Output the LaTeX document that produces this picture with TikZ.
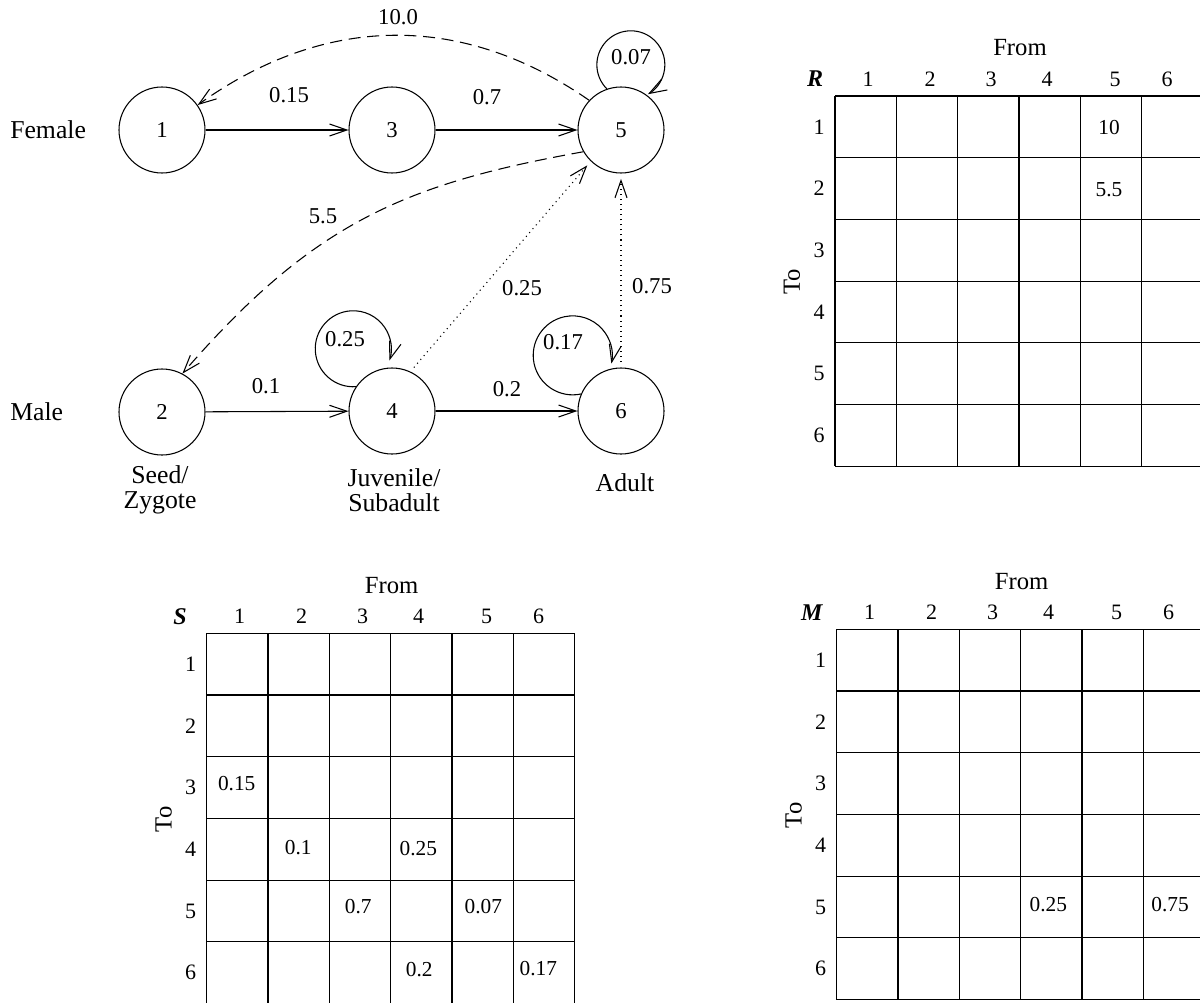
\documentclass[tikz,border=0pt]{standalone}
\usepackage{fontspec}
\setmainfont{Liberation Serif}
\usetikzlibrary{arrows.meta}
\tikzset{
  stg/.style={circle, draw, line width=0.8pt, minimum size=64.5pt, inner sep=0pt, font=\fontsize{17}{19}\selectfont},
  lbl/.style={font=\fontsize{17}{15}\selectfont, inner sep=0pt},
  side/.style={font=\fontsize{19.3}{19}\selectfont, inner sep=0pt},
  numtxt/.style={font=\fontsize{16.5}{19}\selectfont, inner sep=0pt},
  celltxt/.style={font=\fontsize{16}{19}\selectfont, inner sep=0pt},
  bigtxt/.style={font=\fontsize{18.5}{21}\selectfont, inner sep=0pt},
  lettxt/.style={font=\fontsize{18}{21}\selectfont\bfseries\itshape, inner sep=0pt},
  gridln/.style={line width=0.9pt},
  edge/.style={line width=0.8pt, -{Straight Barb[length=13pt,width=9pt,line width=0.8pt]}},
  dsh/.style={dash pattern=on 9pt off 5pt},
  dts/.style={dash pattern=on 0.8pt off 3pt},
}
\newcommand{\matgrid}[5]{%
  \begin{scope}[shift={(#2,-#3)}]
    \foreach \i in {0,...,6} {
      \draw[gridln] ({\i*61.3},0) -- ({\i*61.3},-370.2);
      \draw[gridln] (0,{-\i*61.7}) -- (367.8,{-\i*61.7});
    }
    \foreach \k/\xo in {1/33,2/95,3/156,4/212,5/280,6/332}
      \node[numtxt] (#1-h\k) at (\xo,17) {\k};
    \foreach \k in {1,...,6}
      \node[numtxt] (#1-r\k) at (-16,{-(\k-0.5)*61.7}) {\k};
    \node[bigtxt] (#1-from) at (185,48) {From};
    \node[bigtxt,rotate=90] (#1-to) at (-43,-186) {To};
    \node[lettxt] (#1-name) at (#5,17) {#4};
  \end{scope}}
\begin{document}
\begin{tikzpicture}[x=0.75pt,y=0.75pt]
\useasboundingbox (0,0) rectangle (1200,-1003);
\clip (0,0) rectangle (1200,-1003);
\fill[white] (0,0) rectangle (1200,-1003);

% stage graph
\node[stg] (n1) at (162,-130) {1};
\node[stg] (n3) at (392,-130) {3};
\node[stg] (n5) at (621,-130) {5};
\node[stg] (n2) at (162,-412) {2};
\node[stg] (n4) at (392,-411) {4};
\node[stg] (n6) at (621,-411) {6};

\node[side, anchor=west] (female) at (10,-130) {Female};
\node[side, anchor=west] (male) at (10,-412) {Male};
\node[side, align=center] (seedlab) at (160,-490) {Seed/\\Zygote};
\node[side, align=center] (juvlab) at (394,-490) {Juvenile/\\Subadult};
\node[side] (adultlab) at (625,-483) {Adult};

\draw[edge] (n1) -- (n3);
\draw[edge] (n3) -- (n5);
\draw[edge] (n2) -- (n4);
\draw[edge] (n4) -- (n6);
\draw[edge, dsh] (n5.137) .. controls (462,-12) and (325,-14) .. (n1.35);
\draw[edge, dsh] (n5.210) .. controls (404,-184) and (313,-223) .. (n2.62);
\draw[edge, dts, shorten <=4pt, shorten >=4pt] (n4.65) -- (n5.226);
\draw[edge, dts, shorten <=4pt, shorten >=4pt] (n6) -- (n5);
\draw[edge] (n5.109) arc[start angle=225, end angle=-60, radius=34];
\draw[edge] (n4.146) arc[start angle=274, end angle=-18, radius=38];
\draw[edge] (n6.157) arc[start angle=282, end angle=-12, radius=39.5];

\node[lbl] (l51) at (398,-17) {10.0};
\node[lbl] (l13) at (289,-95) {0.15};
\node[lbl] (l35) at (487,-97) {0.7};
\node[lbl] (l55) at (631,-57) {0.07};
\node[lbl] (l52) at (323,-216) {5.5};
\node[lbl] (l45) at (522,-288) {0.25};
\node[lbl] (l65) at (652,-286) {0.75};
\node[lbl] (l44) at (345,-339) {0.25};
\node[lbl] (l66) at (563,-342) {0.17};
\node[lbl] (l24) at (266,-386) {0.1};
\node[lbl] (l46) at (507,-389) {0.2};

% matrices
\matgrid{R}{835}{96}{R}{-20}
\matgrid{S}{206.7}{633.3}{S}{-26.7}
\matgrid{M}{836.7}{629.3}{M}{-25}

\node[celltxt] (R-15) at (1109,-128) {10};
\node[celltxt] (R-25) at (1109,-190) {5.5};

\node[celltxt] (S-31) at (236.7,-784) {0.15};
\node[celltxt] (S-42) at (298.3,-847.5) {0.1};
\node[celltxt] (S-44) at (418.3,-849) {0.25};
\node[celltxt] (S-53) at (358.3,-907) {0.7};
\node[celltxt] (S-55) at (483.3,-907) {0.07};
\node[celltxt] (S-64) at (419.3,-970) {0.2};
\node[celltxt] (S-66) at (538.3,-968.5) {0.17};

\node[celltxt] (M-54) at (1048.3,-905) {0.25};
\node[celltxt] (M-56) at (1170,-905) {0.75};
\end{tikzpicture}
\end{document}
